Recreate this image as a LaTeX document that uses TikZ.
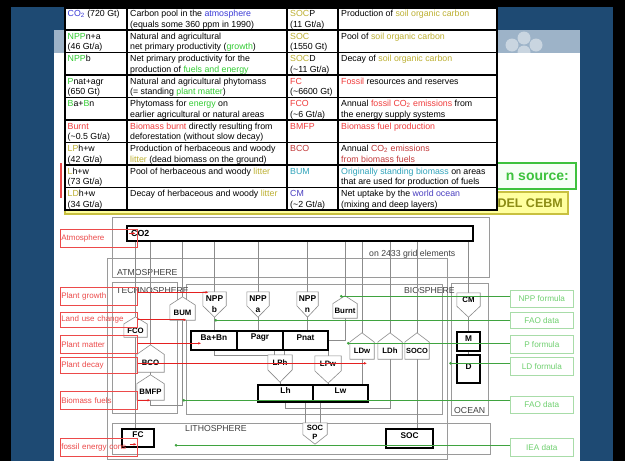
\documentclass[tikz,border=0pt]{standalone}
\usepackage{fontspec}
\setmainfont{Liberation Sans}
\usetikzlibrary{calc,fit,arrows.meta}

% palette
\definecolor{bgblue}{HTML}{1E4A73}
\definecolor{bandblue}{HTML}{9DB3C8}
\definecolor{tblue}{HTML}{3B3BD6}
\definecolor{tgreen}{HTML}{33CC33}
\definecolor{tolive}{HTML}{BDB032}
\definecolor{tred}{HTML}{F03C3C}
\definecolor{tdred}{HTML}{C23A3A}
\definecolor{tteal}{HTML}{2FA3BA}
\definecolor{tpurple}{HTML}{4A3FC0}
\definecolor{regiongray}{HTML}{9A9A9A}
\definecolor{linkgray}{HTML}{8C8C8C}
\definecolor{lblred}{HTML}{EC4A4A}
\definecolor{arrred}{HTML}{E42020}
\definecolor{lblgreen}{HTML}{70D070}
\definecolor{lblgreenbox}{HTML}{A8DCA8}
\definecolor{linkgreen}{HTML}{3FA33F}
\definecolor{srcgreen}{HTML}{3DC23D}
\definecolor{srcfill}{HTML}{F6FFF6}
\definecolor{yelfill}{HTML}{FFFF9E}
\definecolor{yelborder}{HTML}{C8C040}
\definecolor{yeltext}{HTML}{8C8C14}

% outlines of the flow nodes: roof on top, or point at the bottom
\newcommand\drawroof[1]{%
  \draw[flowshape] (#1.south west) -- ($(#1.north west)!0.35!(#1.south west)$)
    -- (#1.north) -- ($(#1.north east)!0.35!(#1.south east)$)
    -- (#1.south east) -- cycle;}
\newcommand\drawvee[1]{%
  \draw[flowshape] (#1.north west) -- (#1.north east)
    -- ($(#1.north east)!0.55!(#1.south east)$) -- (#1.south)
    -- ($(#1.north west)!0.55!(#1.south west)$) -- cycle;}
% one table cell
\newcommand\tcell[4]{\node[cell] (#1) at (#2,#3+1.2) {\strut #4};}

\begin{document}
\begin{tikzpicture}[x=1pt,y=-1pt,
  region/.style={draw=regiongray, line width=0.6pt, inner sep=0pt},
  link/.style={draw=linkgray, line width=0.6pt},
  flowbox/.style={inner sep=0pt},
  flowshape/.style={draw=linkgray, line width=0.6pt, fill=white},
  poolbox/.style={draw=black, line width=1.5pt, fill=white, inner sep=0pt,
    font=\fontsize{8.3}{9}\selectfont\bfseries},
  flowtext/.style={font=\fontsize{7.8}{8.6}\selectfont\bfseries, inner sep=0pt, align=center},
  npptext/.style={font=\fontsize{8.4}{11}\selectfont\bfseries, inner sep=0pt, align=center},
  regionlabel/.style={font=\fontsize{8.7}{9}\selectfont, text=black!75, inner sep=0pt},
  redlabel/.style={draw=lblred, line width=0.6pt, inner sep=0pt, anchor=north west,
    minimum width=77pt, text width=75pt, align=left, text=lblred,
    font=\fontsize{8}{9}\selectfont},
  greenlabel/.style={draw=lblgreenbox, line width=0.6pt, inner sep=0pt, anchor=north west,
    minimum width=63pt, text=lblgreen, font=\fontsize{8.2}{9}\selectfont},
  redarrow/.style={draw=arrred, line width=0.8pt, -{Latex[length=3pt,width=2.6pt]}},
  greenlink/.style={draw=linkgreen, line width=0.8pt, -{Circle[length=2.6pt]}},
  cell/.style={anchor=north west, inner sep=0pt, align=left,
    font=\fontsize{8.8}{10.9}\selectfont},
]
\useasboundingbox (0,0) rectangle (625,461);

% ---- slide background ----
\fill[black] (0,0) rectangle (625,461);
\fill[bgblue] (11,7) rectangle (613,461);
\fill[bandblue] (54,30) rectangle (580,53);
\foreach \cx/\cy in {512/45,524/38,536/45,524/52}
  \fill[white, opacity=0.45] (\cx,\cy) circle (6.5);
\fill[white] (54,53) rectangle (580,461);

% ---- boxes partly covered by the table ----
\node[draw=srcgreen, line width=1.4pt, fill=srcfill, inner sep=0pt, fit={(300,163) (576,189)}] (srcbox) {};
\node[anchor=east, inner sep=0pt, text=srcgreen, font=\fontsize{14}{16}\selectfont\bfseries] (srctext) at (569,177) {n source:};
\node[draw=yelborder, line width=1.4pt, fill=yelfill, inner sep=0pt, fit={(65,192) (568,214)}] (modelbox) {};
\node[anchor=east, inner sep=0pt, text=yeltext, font=\fontsize{12.5}{14}\selectfont\bfseries] (modeltext) at (563,203.5) {DEL CEBM};
\draw[lblred, line width=1.2pt] (61,163) -- (61,198);

% ---- glossary table ----
\node[draw=black, line width=2.6pt, fill=white, inner sep=0pt, fit={(65,7.5) (497,210)}] (table) {};
\foreach \yy in {30,52.5,75,97.5,120,142.5,165,187.5}
  \draw[black, line width=1.6pt] (65,\yy) -- (497,\yy);
\foreach \xx in {127,287,338}
  \draw[black, line width=1.6pt] (\xx,7.5) -- (\xx,210);

\tcell{a1}{67.5}{7.5}{\textcolor{tblue}{CO\textsubscript{2}} (720 Gt)}
\tcell{b1}{130}{7.5}{Carbon pool in the \textcolor{tblue}{atmosphere}\\(equals some 360 ppm in 1990)}
\tcell{c1}{290}{7.5}{\textcolor{tolive}{SOC}P\\(11 Gt/a)}
\tcell{d1}{341}{7.5}{Production of \textcolor{tolive}{soil organic carbon}}

\tcell{a2}{67.5}{30}{\textcolor{tgreen}{NPP}n+a\\(46 Gt/a)}
\tcell{b2}{130}{30}{Natural and agricultural\\net primary productivity (\textcolor{tgreen}{growth})}
\tcell{c2}{290}{30}{\textcolor{tolive}{SOC}\\(1550 Gt)}
\tcell{d2}{341}{30}{Pool of \textcolor{tolive}{soil organic carbon}}

\tcell{a3}{67.5}{52.5}{\textcolor{tgreen}{NPP}b}
\tcell{b3}{130}{52.5}{Net primary productivity for the\\production of \textcolor{tgreen}{fuels and energy}}
\tcell{c3}{290}{52.5}{\textcolor{tolive}{SOC}D\\(\textasciitilde11 Gt/a)}
\tcell{d3}{341}{52.5}{Decay of \textcolor{tolive}{soil organic carbon}}

\tcell{a4}{67.5}{75}{\textcolor{tgreen}{P}nat+agr\\(650 Gt)}
\tcell{b4}{130}{75}{Natural and agricultural phytomass\\(= standing \textcolor{tgreen}{plant matter})}
\tcell{c4}{290}{75}{\textcolor{tred}{FC}\\(\textasciitilde6600 Gt)}
\tcell{d4}{341}{75}{\textcolor{tred}{Fossil} resources and reserves}

\tcell{a5}{67.5}{97.5}{\textcolor{tgreen}{B}a+\textcolor{tgreen}{B}n}
\tcell{b5}{130}{97.5}{Phytomass for \textcolor{tgreen}{energy} on\\earlier agricultural or natural areas}
\tcell{c5}{290}{97.5}{\textcolor{tred}{FCO}\\(\textasciitilde6 Gt/a)}
\tcell{d5}{341}{97.5}{Annual \textcolor{tred}{fossil CO\textsubscript{2} emissions} from\\the energy supply systems}

\tcell{a6}{67.5}{120}{\textcolor{tred}{Burnt}\\(\textasciitilde0.5 Gt/a)}
\tcell{b6}{130}{120}{\textcolor{tred}{Biomass burnt} directly resulting from\\deforestation (without slow decay)}
\tcell{c6}{290}{120}{\textcolor{tred}{BMFP}}
\tcell{d6}{341}{120}{\textcolor{tred}{Biomass fuel production}}

\tcell{a7}{67.5}{142.5}{\textcolor{tolive}{LP}h+w\\(42 Gt/a)}
\tcell{b7}{130}{142.5}{Production of herbaceous and woody\\\textcolor{tolive}{litter} (dead biomass on the ground)}
\tcell{c7}{290}{142.5}{\textcolor{tdred}{BCO}}
\tcell{d7}{341}{142.5}{Annual \textcolor{tdred}{CO\textsubscript{2} emissions}\\\textcolor{tdred}{from biomass fuels}}

\tcell{a8}{67.5}{165}{\textcolor{tolive}{L}h+w\\(73 Gt/a)}
\tcell{b8}{130}{165}{Pool of herbaceous and woody \textcolor{tolive}{litter}}
\tcell{c8}{290}{165}{\textcolor{tteal}{BUM}}
\tcell{d8}{341}{165}{\textcolor{tteal}{Originally standing biomass} on areas\\that are used for production of fuels}

\tcell{a9}{67.5}{187.5}{\textcolor{tolive}{LD}h+w\\(34 Gt/a)}
\tcell{b9}{130}{187.5}{Decay of herbaceous and woody \textcolor{tolive}{litter}}
\tcell{c9}{290}{187.5}{\textcolor{tpurple}{CM}\\(\textasciitilde2 Gt/a)}
\tcell{d9}{341}{187.5}{Net uptake by the \textcolor{tpurple}{world ocean}\\(mixing and deep layers)}

% ---- model regions ----
\node[region, fit={(112,217) (489,277)}] (gridbox) {};
\node[region, fit={(107,258) (447,459)}] (atmobox) {};
\node[region, fit={(112,282) (177,413)}] (technobox) {};
\node[region, fit={(186,284) (442,414)}] (biobox) {};
\node[region, fit={(451,283) (488,415)}] (oceanbox) {};
\node[region, fit={(112,423) (490,454)}] (lithobox) {};

\node[regionlabel, anchor=base west] (gridtext) at (369,256) {on 2433 grid elements};
\node[regionlabel, anchor=base west] (atmotext) at (117,275) {ATMOSPHERE};
\node[regionlabel, anchor=base west] (technotext) at (116,293) {TECHNOSPHERE};
\node[regionlabel, anchor=base east] (biotext) at (455,293) {BIOSPHERE};
\node[regionlabel, anchor=base west] (oceantext) at (454,413) {OCEAN};
\node[regionlabel, anchor=base west] (lithotext) at (185,431) {LITHOSPHERE};

% ---- pools ----
\node[poolbox, fit={(127,226) (473,241)}] (co2) {};
\node[anchor=west, inner sep=0pt, font=\fontsize{8.8}{9}\selectfont\bfseries] (co2text) at (131,233.5) {CO2};
\node[poolbox, fit={(191,331) (237,350)}] (babn) {Ba+Bn};
\node[poolbox, fit={(237,331) (283,350)}] (pagr) {Pagr};
\node[poolbox, fit={(283,331) (328,350)}] (pnat) {Pnat};
\node[poolbox, fit={(258,385) (313,402)}] (lh) {Lh};
\node[poolbox, fit={(313,385) (368,402)}] (lw) {Lw};
\node[poolbox, fit={(457,332) (480,351)}] (mbox) {M};
\node[poolbox, fit={(457,355) (480,383)}] (dbox) {D};
\node[poolbox, fit={(122,429) (154,447)}] (fcbox) {FC};
\node[poolbox, fit={(386,429) (433,448)}] (socbox) {SOC};

% ---- flows (outlines drawn further down) ----
\node[flowbox, fit={(170,297) (195,320)}] (bum) {};
\node[flowbox, fit={(333,296) (357,318)}] (burnt) {};
\node[flowbox, fit={(124,317) (147,337)}] (fco) {};
\node[flowbox, fit={(137,345) (164,372)}] (bco) {};
\node[flowbox, fit={(137,375) (164,400)}] (bmfp) {};
\node[flowbox, fit={(350,333) (374,359)}] (ldw) {};
\node[flowbox, fit={(378,333) (402,359)}] (ldh) {};
\node[flowbox, fit={(405,333) (429,359)}] (soco) {};
\node[flowbox, fit={(203,292) (226,317)}] (nppb) {};
\node[flowbox, fit={(247,292) (269,317)}] (nppa) {};
\node[flowbox, fit={(297,292) (318,317)}] (nppn) {};
\node[flowbox, fit={(457,293) (480,317)}] (cm) {};
\node[flowbox, fit={(268,355) (292,382)}] (lph) {};
\node[flowbox, fit={(315,356) (341,383)}] (lpw) {};
\node[flowbox, fit={(303,423) (327,444)}] (socp) {};

% ---- carbon links ----
\draw[link] (co2.south -| fco.north) -- (fco.north);
\draw[link] (fco.south) -- (fco.south |- fcbox.north);
\draw[link] (co2.south -| bco.north) -- (bco.north);
\draw[link] (bco.south) -- (bmfp.north);
\draw[link] (bmfp.south) -- ++(0,5) -| (bum.south);
\draw[link] (co2.south -| bum.north) -- (bum.north);
\draw[link] (co2.south -| nppb.north) -- (nppb.north);
\draw[link] (nppb.south) -- (nppb.south |- babn.north);
\draw[link] (co2.south -| nppa.north) -- (nppa.north);
\draw[link] (nppa.south) -- (nppa.south |- pagr.north);
\draw[link] (co2.south -| nppn.north) -- (nppn.north);
\draw[link] (nppn.south) -- (nppn.south |- pnat.north);
\draw[link] (co2.south -| burnt.north) -- (burnt.north);
\draw[link] (burnt.south) |- (pnat.east);
\draw[link] (co2.south -| ldw.north) -- (ldw.north);
\draw[link] (ldw.south) -- (ldw.south |- lw.north);
\draw[link] (co2.south -| ldh.north) -- (ldh.north);
\draw[link] (ldh.south) -- ++(0,49) -| (lh.south);
\draw[link] (co2.south -| soco.north) -- (soco.north);
\draw[link] (soco.south) -- (soco.south |- socbox.north);
\draw[link] (co2.south -| cm.north) -- (cm.north);
\draw[link] (cm.south) -- (cm.south |- mbox.north);
\draw[link] (mbox.south) -- (dbox.north);
\draw[link] (babn.south) |- (lph.north west);
\draw[link] ([xshift=-6pt]lph.north) -- ([xshift=-6pt]lph.north |- pagr.south);
\draw[link] ([xshift=4pt]lph.north) -- ([xshift=4pt]lph.north |- pnat.south);
\draw[link] (lpw.north) -- (lpw.north |- pnat.south);
\draw[link] (lph.south) -- (lph.south |- lh.north);
\draw[link] (lpw.south) -- (lpw.south |- lw.north);
\draw[link] ([xshift=-10pt]socp.north) -- ([xshift=-10pt]socp.north |- lh.south);
\draw[link] ([xshift=5pt]socp.north) -- ([xshift=5pt]socp.north |- lw.south);

% ---- flow outlines and names ----
\foreach \n in {bum,burnt,fco,bco,bmfp,ldw,ldh,soco} {\drawroof{\n}}
\foreach \n in {nppb,nppa,nppn,cm,lph,lpw,socp} {\drawvee{\n}}

\node[flowtext] (bumtext) at ([yshift=-4pt]bum.center) {BUM};
\node[flowtext] (burnttext) at ([yshift=-3.8pt]burnt.center) {Burnt};
\node[flowtext] (fcotext) at ([yshift=-3.5pt]fco.center) {FCO};
\node[flowtext] (bcotext) at ([yshift=-4.5pt]bco.center) {BCO};
\node[flowtext] (bmfptext) at ([yshift=-4.4pt]bmfp.center) {BMFP};
\node[flowtext] (ldwtext) at ([yshift=-4.5pt]ldw.center) {LDw};
\node[flowtext] (ldhtext) at ([yshift=-4.5pt]ldh.center) {LDh};
\node[flowtext, font=\fontsize{7.4}{8.6}\selectfont\bfseries] (socotext) at ([yshift=-4.5pt]soco.center) {SOCO};
\node[npptext] (nppbtext) at (nppb.center) {NPP\\b};
\node[npptext] (nppatext) at (nppa.center) {NPP\\a};
\node[npptext] (nppntext) at (nppn.center) {NPP\\n};
\node[flowtext] (cmtext) at ([yshift=5pt]cm.center) {CM};
\node[flowtext] (lphtext) at ([yshift=6pt]lph.center) {LPh};
\node[flowtext] (lpwtext) at ([yshift=6pt]lpw.center) {LPw};
\node[flowtext, font=\fontsize{7.6}{9}\selectfont\bfseries] (socptext) at ([yshift=1pt]socp.center) {SOC\\P};

% ---- process labels on the left ----
\node[redlabel, minimum height=18pt] (atmlbl) at (60,229) {Atmosphere};
\node[redlabel, minimum height=18pt] (growthlbl) at (60,287) {Plant growth};
\node[redlabel, minimum height=15pt] (landlbl) at (60,312) {Land use change};
\node[redlabel, minimum height=18pt] (matterlbl) at (60,335) {Plant matter};
\node[redlabel, minimum height=16pt] (decaylbl) at (60,357) {Plant decay};
\node[redlabel, minimum height=18pt] (fuelslbl) at (60,391) {Biomass fuels};
\node[redlabel, minimum height=18pt] (fossillbl) at (60,438) {fossil energy cons};

\draw[redarrow] ([yshift=5pt]atmlbl.east) ++(-9,0) -- ++(7,0);
\draw[redarrow] ([yshift=4pt]growthlbl.east) -- ([xshift=-6pt,yshift=4pt]growthlbl.east -| nppb.center);
\draw[redarrow] (landlbl.east) -- ([xshift=4pt]landlbl.east -| bum.center);
\draw[redarrow] ([yshift=1pt]matterlbl.east) -- ([xshift=11pt,yshift=1pt]matterlbl.east -| babn.west);
\draw[redarrow] ([yshift=2pt]decaylbl.east) -- ([xshift=5pt,yshift=2pt]decaylbl.east -| ldw.center);
\draw[redarrow] (fuelslbl.east) -- (fuelslbl.east -| bmfp.center);
\draw[redarrow] ([yshift=3pt]fossillbl.east) ++(-8,0) -- ++(7,0);

% ---- data sources on the right ----
\node[greenlabel, minimum height=17pt] (nppflbl) at (510,290) {NPP formula};
\node[greenlabel, minimum height=16pt] (fao1lbl) at (510,312) {FAO data};
\node[greenlabel, minimum height=18pt] (pflbl) at (510,335) {P formula};
\node[greenlabel, minimum height=18pt] (ldflbl) at (510,357) {LD formula};
\node[greenlabel, minimum height=17pt] (fao2lbl) at (510,396) {FAO data};
\node[greenlabel, minimum height=18pt] (iealbl) at (510,438) {IEA data};

\draw[greenlink] ([yshift=2.5pt]nppflbl.west) -- ([xshift=-5pt,yshift=2.5pt]nppflbl.west -| burnt.center);
\draw[greenlink] (fao1lbl.west) -- (fao1lbl.west -| nppb.center);
\draw[greenlink] ([yshift=1pt]pflbl.west) -- ([xshift=2pt,yshift=1pt]pflbl.west -| burnt.center);
\draw[greenlink] ([yshift=3pt]ldflbl.west) -- ([xshift=-7pt,yshift=3pt]ldflbl.west -| dbox.west);
\draw[greenlink] ([yshift=4.5pt]fao2lbl.west) -- ([yshift=4.5pt]fao2lbl.west -| bum.center);
\draw[greenlink] ([yshift=2pt]iealbl.west) -- ([xshift=20pt,yshift=2pt]iealbl.west -| fcbox.east);
\end{tikzpicture}
\end{document}
